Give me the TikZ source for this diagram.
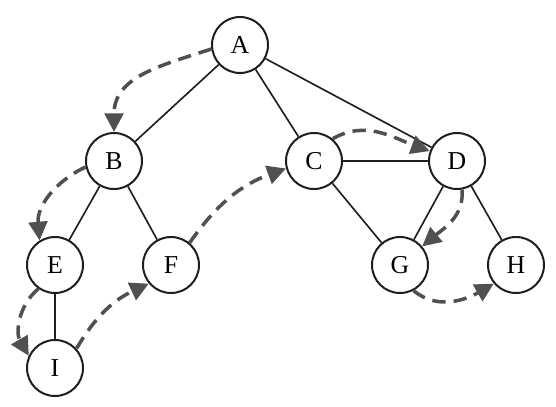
\documentclass[tikz,border=0pt]{standalone}
\usepackage{fontspec}
\setmainfont{Liberation Serif}
\usetikzlibrary{arrows.meta}
\definecolor{dashgray}{HTML}{505050}
\definecolor{edgeblack}{HTML}{1E1E1E}
\begin{document}
\begin{tikzpicture}[x=0.03cm,y=0.03cm,
  vertex/.style={circle,draw=edgeblack,line width=1.7pt,minimum size=1.68cm,inner sep=0pt,fill=white,font=\fontsize{22}{24}\selectfont},
  edge/.style={draw=edgeblack,line width=1.4pt},
  trav/.style={draw=dashgray,line width=3pt,dash pattern=on 0.4cm off 0.24cm,
    -{Triangle[length=0.56cm,width=0.56cm]},shorten >=0pt}]
\useasboundingbox (0,0) rectangle (556,406);
\node[vertex] (A) at (240,361) {A};
\node[vertex] (B) at (114,245) {B};
\node[vertex] (C) at (314,245) {C};
\node[vertex] (D) at (457,245) {D};
\node[vertex] (E) at (55,141) {E};
\node[vertex] (F) at (171,141) {F};
\node[vertex] (G) at (400,141) {G};
\node[vertex] (H) at (516,141) {H};
\node[vertex] (I) at (55,38) {I};
\draw[edge] (A) -- (B);
\draw[edge] (A) -- (C);
\draw[edge] (A) -- (D);
\draw[edge] (B) -- (E);
\draw[edge] (B) -- (F);
\draw[edge] (C) -- (D);
\draw[edge] (C) -- (G);
\draw[edge] (D) -- (G);
\draw[edge] (D) -- (H);
\draw[edge] (E) -- (I);
\draw[trav] (A.188) to[out=198,in=90,looseness=1.1] (B.90);
\draw[trav] (B.192) to[out=205,in=95] (E.122);
\draw[trav] (E.235) to[out=220,in=120] (I.155);
\draw[trav] (I.42) to[out=60,in=205] (F.220);
\draw[trav] (F.50) to[out=55,in=200] (C.195);
\draw[trav] (C.50) to[out=30,in=160] (D.160);
\draw[trav] (D.280) to[out=275,in=40] (G.40);
\draw[trav] (G.298) to[out=320,in=210] (H.220);
\end{tikzpicture}
\end{document}
